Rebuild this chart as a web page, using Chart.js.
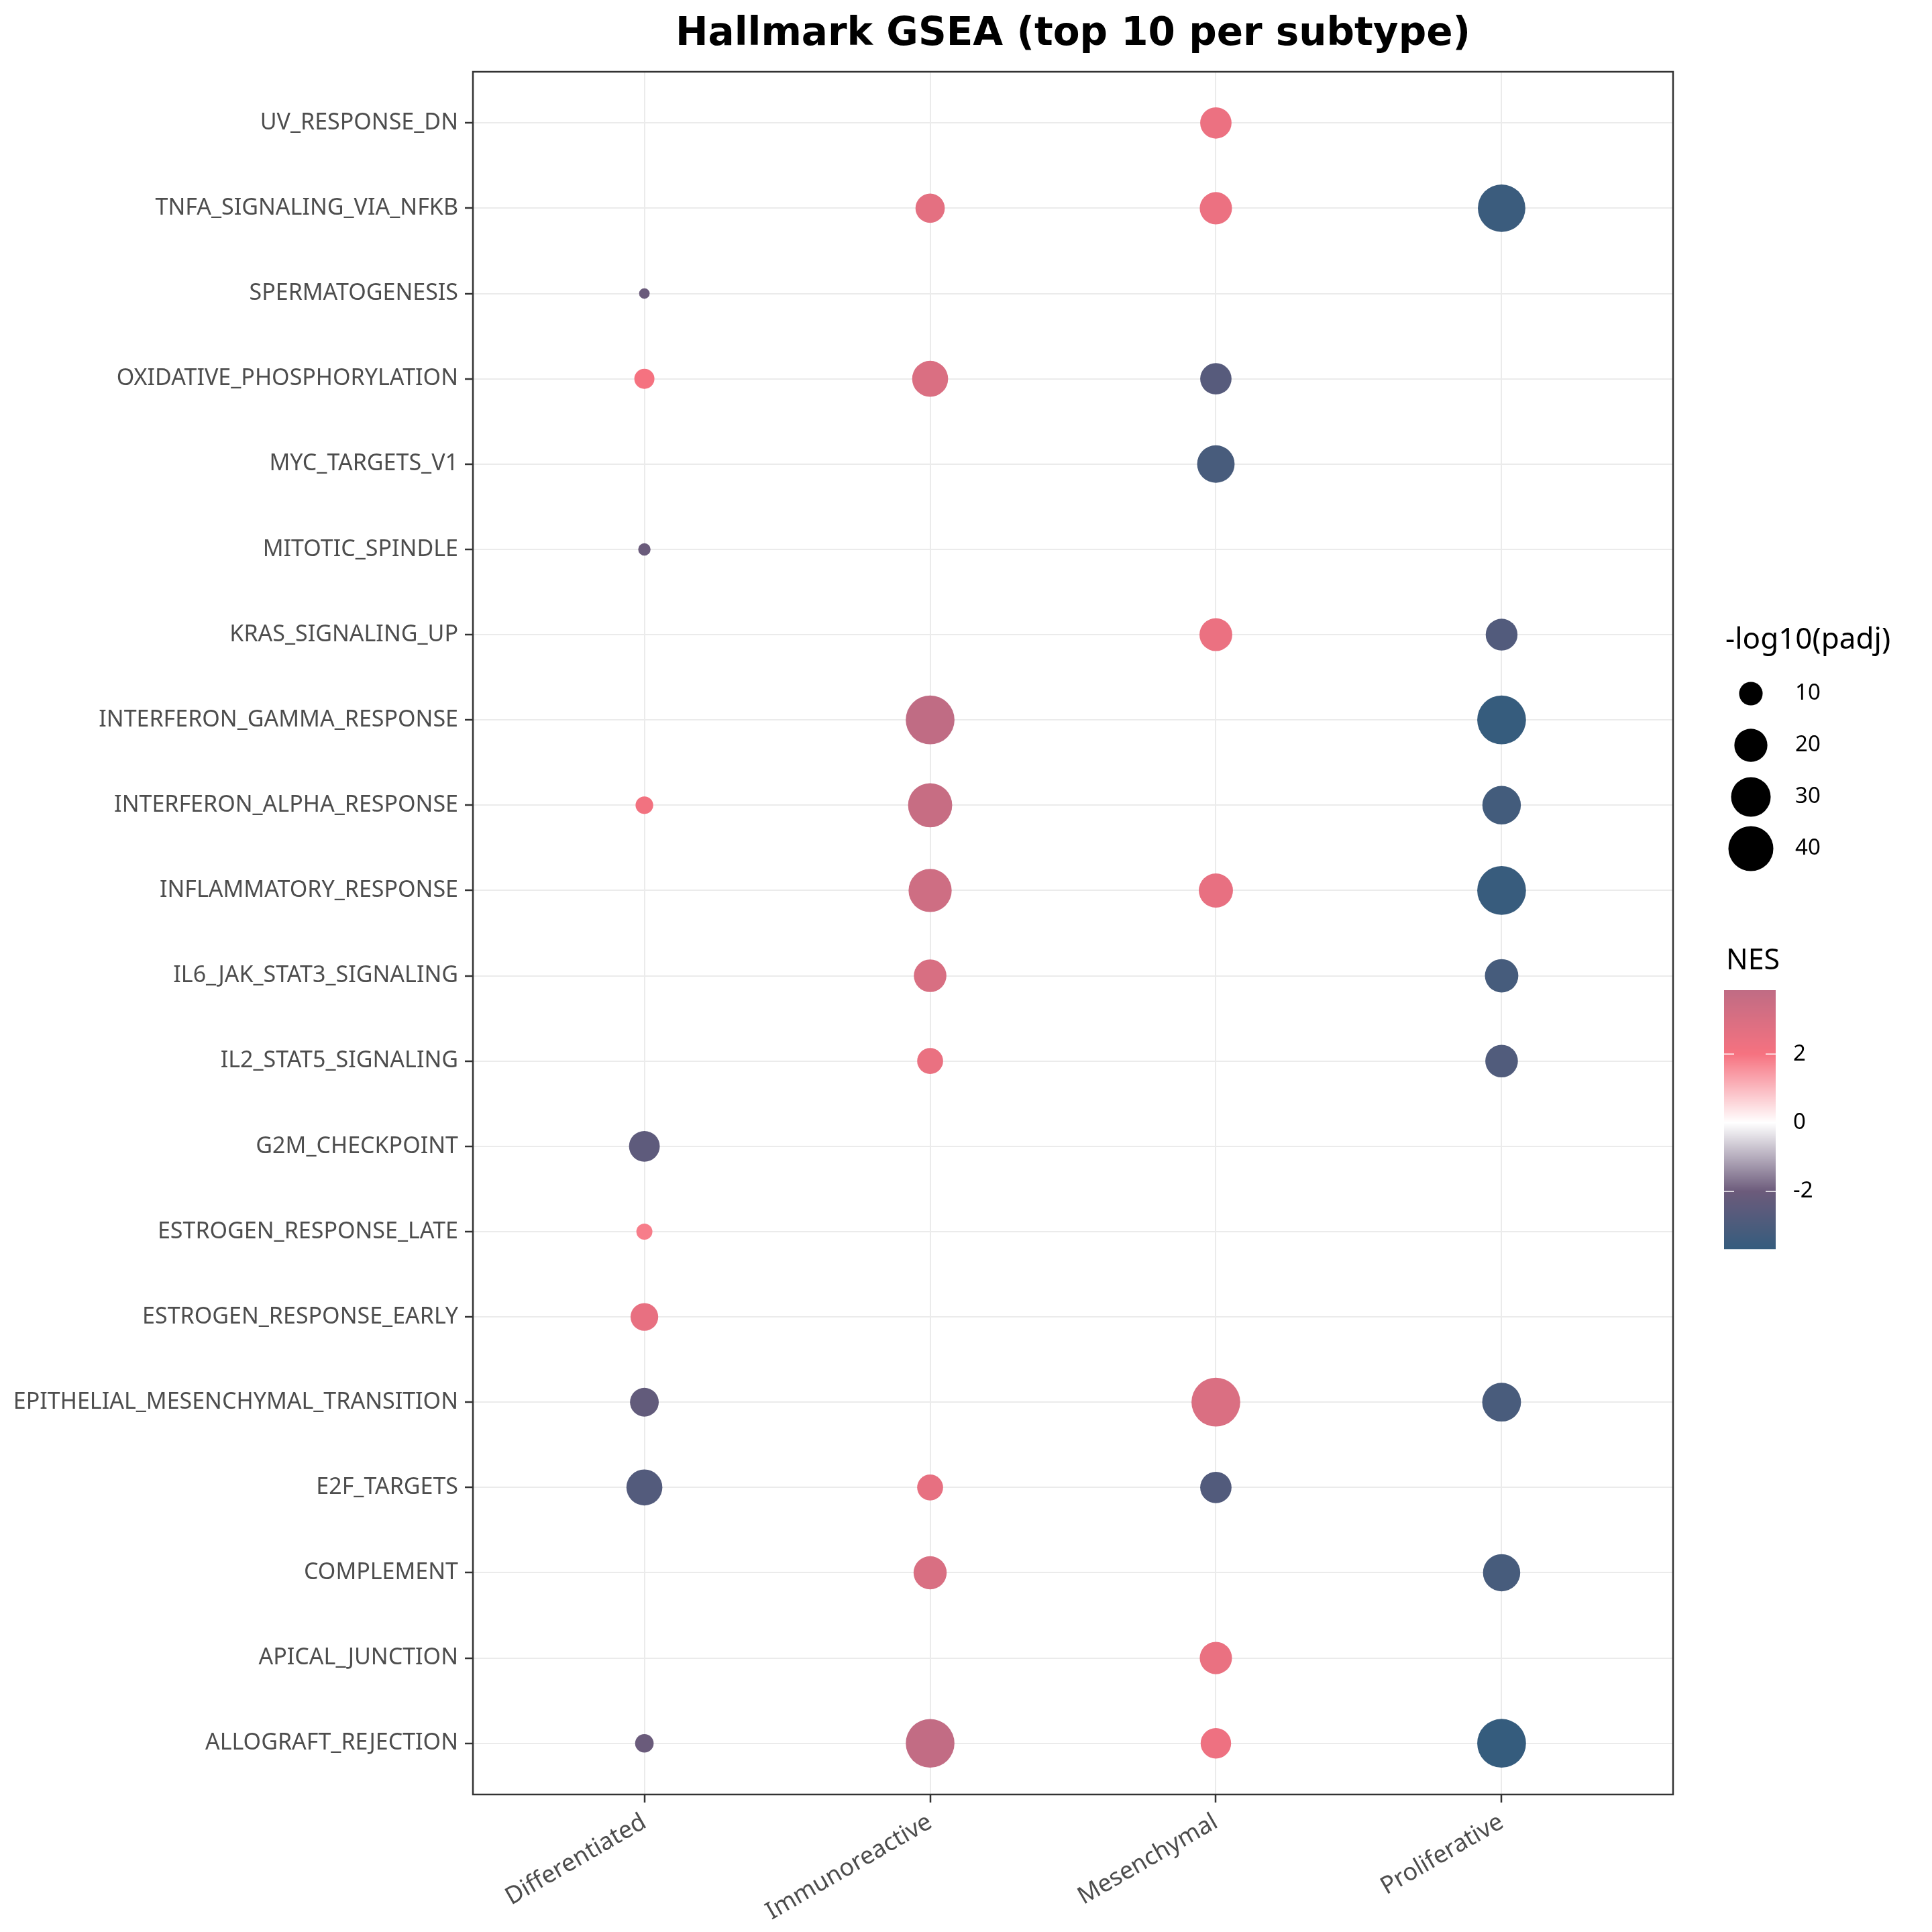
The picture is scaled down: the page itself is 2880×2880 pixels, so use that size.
<!DOCTYPE html>
<html>
<head>
<meta charset="utf-8">
<script src="https://cdn.jsdelivr.net/npm/chart.js@4.4.1/dist/chart.umd.min.js"></script>
<style>
  html, body { margin: 0; padding: 0; background: #ffffff; }
</style>
</head>
<body>
<canvas id="gseaCanvas" width="2880" height="2880"></canvas>
<script>
// Subtypes on the x axis
const subtypes = ['Differentiated', 'Immunoreactive', 'Mesenchymal', 'Proliferative'];

// Hallmark pathways, bottom to top on the y axis
const pathways = [
    'ALLOGRAFT_REJECTION', 'APICAL_JUNCTION', 'COMPLEMENT', 'E2F_TARGETS',
    'EPITHELIAL_MESENCHYMAL_TRANSITION', 'ESTROGEN_RESPONSE_EARLY', 'ESTROGEN_RESPONSE_LATE',
    'G2M_CHECKPOINT', 'IL2_STAT5_SIGNALING', 'IL6_JAK_STAT3_SIGNALING', 'INFLAMMATORY_RESPONSE',
    'INTERFERON_ALPHA_RESPONSE', 'INTERFERON_GAMMA_RESPONSE', 'KRAS_SIGNALING_UP',
    'MITOTIC_SPINDLE', 'MYC_TARGETS_V1', 'OXIDATIVE_PHOSPHORYLATION', 'SPERMATOGENESIS',
    'TNFA_SIGNALING_VIA_NFKB', 'UV_RESPONSE_DN'
];

// -log10(padj) per subtype (same order as pathways, null = not in top 10)
const padjDifferentiated = [6.9, null, null, 24.1, 14.8, 13.7, 5.9, 17.1, null, null, null, 6.5, null, null, 5.1, null, 7.7, 5.0, null, null];
const padjImmunoreactive = [48.0, null, 20.1, 12.0, null, null, null, null, 12.0, 19.4, 36.4, 38.4, 48.2, null, null, null, 24.1, null, 15.4, null];
const padjMesenchymal    = [16.8, 19.0, null, 17.8, 48.2, null, null, null, null, null, 21.5, null, null, 19.7, null, 26.5, 17.8, null, 19.0, 17.8];
const padjProliferative  = [48.2, null, 26.1, null, 28.6, null, null, null, 19.4, 20.5, 48.2, 28.1, 48.2, 18.4, null, null, null, null, 45.4, null];

// NES per subtype
const nesDifferentiated = [-2.06, null, null, -2.75, -2.31, 2.49, 1.84, -2.44, null, null, null, 2.14, null, null, -2.06, null, 2.03, -2.06, null, null];
const nesImmunoreactive = [3.80, null, 3.00, 2.53, null, null, null, null, 2.42, 3.05, 3.37, 3.61, 3.86, null, null, null, 2.95, null, 2.63, null];
const nesMesenchymal    = [2.28, 2.42, null, -2.78, 2.98, null, null, null, null, null, 2.49, null, null, 2.38, null, -3.09, -2.65, null, 2.35, 2.35];
const nesProliferative  = [-3.68, null, -3.12, null, -3.06, null, null, null, -2.84, -3.15, -3.60, -3.24, -3.66, -2.78, null, null, null, null, -3.49, null];

// Legend breaks
const sizeBreaks = [10, 20, 30, 40];
const nesBreaks = [2, 0, -2];

const padjBySubtype = [padjDifferentiated, padjImmunoreactive, padjMesenchymal, padjProliferative];
const nesBySubtype = [nesDifferentiated, nesImmunoreactive, nesMesenchymal, nesProliferative];

// Ranges of the data (like ggplot's scale limits)
const allPadj = padjBySubtype.flat().filter(v => v !== null);
const allNes = nesBySubtype.flat().filter(v => v !== null);
const padjMin = Math.min(...allPadj), padjMax = Math.max(...allPadj);
const nesMin = Math.min(...allNes), nesMax = Math.max(...allNes);

// Size scale: diameter grows with sqrt of rescaled value (area scale)
const minDiameter = 15.7, maxDiameter = 72.7;
function bubbleRadius(v) {
    const t = Math.max(0, (v - padjMin) / (padjMax - padjMin));
    return (minDiameter + (maxDiameter - minDiameter) * Math.sqrt(t)) / 2;
}

// Colour scale: blue -> purple -> white -> coral -> mauve
function nesColor(v) {
    const stops = [
        [nesMin, [53, 92, 125]],
        [-2, [108, 91, 123]],
        [0, [255, 255, 255]],
        [2, [246, 114, 128]],
        [nesMax, [192, 108, 132]]
    ];
    if (v <= stops[0][0]) return 'rgb(' + stops[0][1].join(',') + ')';
    for (let i = 1; i < stops.length; i++) {
        if (v <= stops[i][0]) {
            const t = (v - stops[i - 1][0]) / (stops[i][0] - stops[i - 1][0]);
            const c = stops[i - 1][1].map((a, k) => Math.round(a + (stops[i][1][k] - a) * t));
            return 'rgb(' + c.join(',') + ')';
        }
    }
    return 'rgb(' + stops[stops.length - 1][1].join(',') + ')';
}

// Build one bubble dataset per subtype
const datasets = subtypes.map((name, xi) => {
    const points = [];
    padjBySubtype[xi].forEach((v, yi) => {
        if (v !== null) points.push({ x: xi, y: yi, r: bubbleRadius(v), nes: nesBySubtype[xi][yi] });
    });
    return {
        label: name,
        data: points,
        backgroundColor: ctx => nesColor(ctx.raw.nes),
        borderWidth: 0
    };
});

const FONT = '"Noto Sans", "Open Sans", sans-serif';

// Title, panel border and both legends
const decorPlugin = {
    id: 'decor',
    afterDraw(chart) {
        const ctx = chart.ctx;
        const area = chart.chartArea;
        ctx.save();

        // panel border
        ctx.strokeStyle = '#333333';
        ctx.lineWidth = 2.5;
        ctx.strokeRect(area.left, area.top, area.right - area.left, area.bottom - area.top);

        // title
        ctx.fillStyle = '#000000';
        ctx.font = 'bold 58px "DejaVu Sans", sans-serif';
        ctx.textAlign = 'center';
        ctx.textBaseline = 'alphabetic';
        ctx.fillText('Hallmark GSEA (top 10 per subtype)', (area.left + area.right) / 2, 67);

        // size legend
        ctx.textAlign = 'left';
        ctx.font = '44px ' + FONT;
        ctx.fillText('-log10(padj)', 2572, 967);
        ctx.font = '33px ' + FONT;
        ctx.textBaseline = 'middle';
        sizeBreaks.forEach((b, i) => {
            const cy = 1034 + i * 77;
            ctx.beginPath();
            ctx.arc(2610, cy, bubbleRadius(b), 0, Math.PI * 2);
            ctx.fillStyle = '#000000';
            ctx.fill();
            ctx.fillText(String(b), 2676, cy);
        });

        // colour bar
        ctx.textBaseline = 'alphabetic';
        ctx.font = '43px ' + FONT;
        ctx.fillText('NES', 2573, 1445);
        const barX = 2570, barW = 77, barTop = 1476, barH = 386;
        const yOf = v => barTop + (nesMax - v) / (nesMax - nesMin) * barH;
        for (let y = 0; y < barH; y++) {
            const v = nesMax - (y + 0.5) / barH * (nesMax - nesMin);
            ctx.fillStyle = nesColor(v);
            ctx.fillRect(barX, barTop + y, barW, 1.2);
        }
        ctx.strokeStyle = '#ffffff';
        ctx.lineWidth = 1.5;
        ctx.font = '33px ' + FONT;
        ctx.textBaseline = 'middle';
        nesBreaks.forEach(b => {
            const y = yOf(b);
            ctx.beginPath();
            ctx.moveTo(barX, y); ctx.lineTo(barX + 15, y);
            ctx.moveTo(barX + barW - 15, y); ctx.lineTo(barX + barW, y);
            ctx.stroke();
            ctx.fillStyle = '#000000';
            ctx.fillText(String(b), 2673, y);
        });
        ctx.restore();
    }
};

const gridStyle = {
    color: '#EBEBEB',
    lineWidth: 2,
    tickColor: '#333333',
    tickWidth: 2.5,
    tickLength: 12
};

new Chart(document.getElementById('gseaCanvas').getContext('2d'), {
    type: 'bubble',
    data: { datasets: datasets },
    options: {
        responsive: false,
        animation: false,
        events: [],
        layout: { padding: { top: 107, right: 386, left: 0, bottom: 0 } },
        plugins: { legend: { display: false }, tooltip: { enabled: false }, title: { display: false } },
        scales: {
            x: {
                type: 'linear',
                min: -0.6,
                max: subtypes.length - 0.4,
                afterBuildTicks: scale => { scale.ticks = subtypes.map((s, i) => ({ value: i })); },
                afterFit: scale => { scale.height = 205; },
                grid: gridStyle,
                border: { display: false },
                ticks: {
                    autoSkip: false,
                    maxRotation: 30,
                    minRotation: 30,
                    padding: 8,
                    color: '#4D4D4D',
                    font: { family: FONT, size: 36 },
                    callback: value => subtypes[value]
                }
            },
            y: {
                type: 'linear',
                min: -0.6,
                max: pathways.length - 0.4,
                afterBuildTicks: scale => { scale.ticks = pathways.map((p, i) => ({ value: i })); },
                afterFit: scale => { scale.width = 705; },
                grid: gridStyle,
                border: { display: false },
                ticks: {
                    autoSkip: false,
                    padding: 10,
                    color: '#4D4D4D',
                    font: { family: FONT, size: 34 },
                    callback: value => pathways[value]
                }
            }
        }
    },
    plugins: [decorPlugin]
});
</script>
</body>
</html>
